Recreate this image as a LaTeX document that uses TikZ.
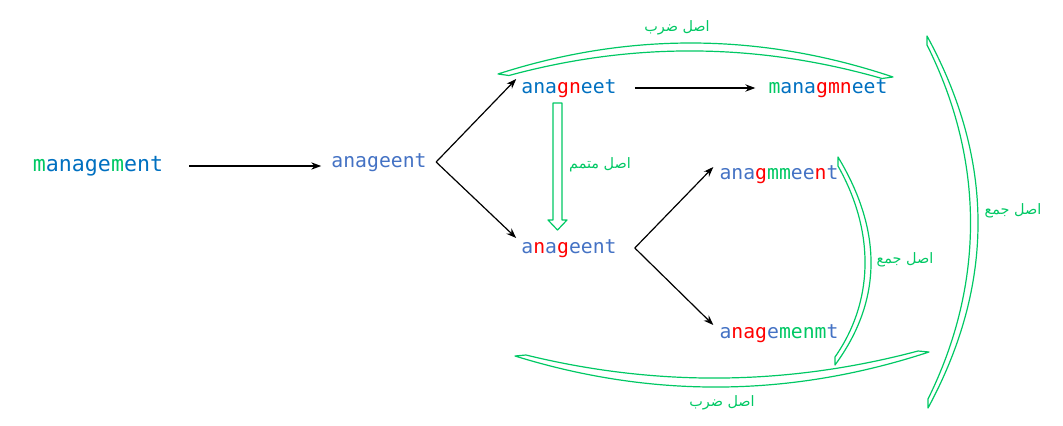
\documentclass[tikz,border=0pt]{standalone}
\usepackage{fontspec}
\setmonofont{DejaVu Sans Mono}
\newfontfamily\arabicfont[Script=Arabic]{DejaVu Sans}
\TeXXeTstate=1
\usetikzlibrary{arrows.meta}
\definecolor{bA}{HTML}{0070C0}
\definecolor{bB}{HTML}{4472C4}
\definecolor{rR}{HTML}{FF0000}
\definecolor{gG}{HTML}{00C864}
\newcommand\xr[1]{\textcolor{rR}{#1}}
\newcommand\xg[1]{\textcolor{gG}{#1}}
\begin{document}
\begin{tikzpicture}[x=0.75pt,y=-0.75pt,
 word/.style={font=\ttfamily\fontsize{14.8}{18}\selectfont, inner sep=0pt, text height=11pt, text depth=3pt},
 bigword/.style={word, font=\ttfamily\fontsize{16.2}{19}\selectfont, text height=12pt, text depth=3.2pt},
 arr/.style={-{Stealth[length=7.5pt,width=5.5pt]}, line width=0.9pt, black},
 bracket/.style={draw=gG, line width=0.9pt, line join=round},
 lab/.style={text=gG, font=\arabicfont\fontsize{10.8}{12}\selectfont, inner sep=0pt}]
\useasboundingbox (0,0) rectangle (1063,425);
% words
\node[bigword, text=bA] (m) at (98,166) {\xg{m}anage\xg{m}ent};
\node[word, text=bB] (a1) at (379,162) {anageent};
\node[word, text=bA] (n1) at (569,88) {ana\xr{gn}eet};
\node[word, text=bA] (m2) at (828,88) {\xg{m}ana\xr{gmn}eet};
\node[word, text=bB] (a2) at (569,248) {a\xr{n}a\xr{g}eent};
\node[word, text=bB] (g1) at (779,174) {ana\xr{g}\xg{mm}ee\xr{n}t};
\node[word, text=bB] (g2) at (779,333) {a\xr{nag}e\xg{men}\xg{m}t};
% black arrows
\draw[arr] ([xshift=19.5pt]m.east) -- ([xshift=-7.5pt]m.east -| a1.west);
\coordinate (f1) at ([xshift=7pt]a1.east);
\draw[arr] (f1) -- ([xshift=-3.75pt,yshift=6.75pt]n1.west);
\draw[arr] (f1) -- ([xshift=-3.75pt,yshift=7.5pt]a2.west);
\draw[arr] ([xshift=13.5pt]n1.east) -- ([xshift=-9.75pt]m2.west);
\coordinate (f2) at ([xshift=13.5pt]a2.east);
\draw[arr] (f2) -- ([xshift=-4.5pt,yshift=5.25pt]g1.west);
\draw[arr] (f2) -- ([xshift=-4.5pt,yshift=6pt]g2.west);
% hollow green arrow
\draw[bracket] (553,103) -- (562,103) -- (562,220) -- (567,220) -- (557.5,230) -- (548,220) -- (553,220) -- cycle;
% brackets (hollow outlines)
\draw[bracket] (498,74) .. controls (629.3,31.7) and (761,32.7) .. (893,77) -- (882,78.5) .. controls (757.3,42.8) and (633,41.8) .. (509,75.5) -- cycle;
\draw[bracket] (515,356) .. controls (653,398.7) and (791,397.3) .. (929,352) -- (918,351) .. controls (787.3,385.7) and (656.7,387) .. (526,355) -- cycle;
\draw[bracket] (838,157) .. controls (883,231.7) and (882,301) .. (835,365) -- (835,357) .. controls (874,301) and (875,231.7) .. (838,166) -- cycle;
\draw[bracket] (927,36) .. controls (994.7,160) and (995,284) .. (928,408) -- (928,399) .. controls (985,284) and (984.7,160) .. (927,45) -- cycle;
% labels
\node[lab] (t1) at (677,28) {\beginR اصل ضرب\endR};
\node[lab] (t2) at (722,403) {\beginR اصل ضرب\endR};
\node[lab] (t3) at (600,165) {\beginR اصل متمم\endR};
\node[lab] (t4) at (905,260) {\beginR اصل جمع\endR};
\node[lab] (t5) at (1013,211) {\beginR اصل جمع\endR};
\end{tikzpicture}
\end{document}
